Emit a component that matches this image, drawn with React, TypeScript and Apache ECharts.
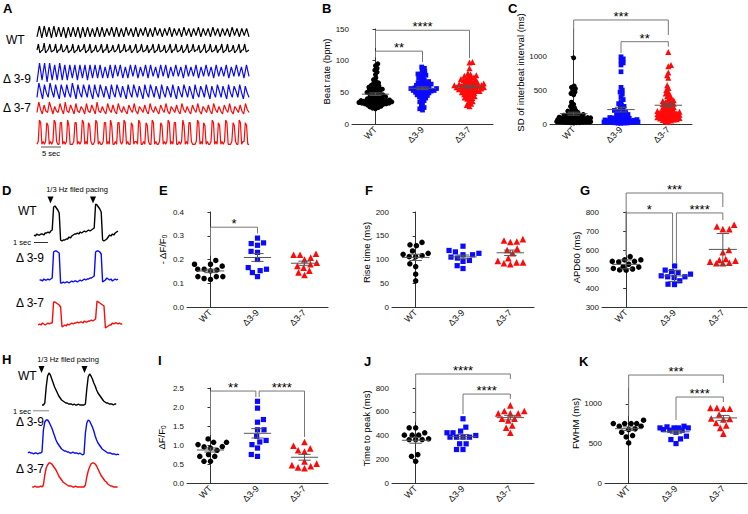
import React, { useEffect, useRef } from "react";
import * as echarts from "echarts";

const FONT = "'Liberation Sans', Arial, Helvetica, sans-serif";
const groups = ["WT", "Δ3-9", "Δ3-7"];
const groupColors = ["#000000", "#0a0aff", "#ff0a0a"];
const groupSymbols = ["circle", "rect", "triangle"];
const symbolScale = [1, 0.95, 1.2];

// ---------- B: beat rate (bpm)
const beatWT = [95, 92, 88, 85, 82, 78, 73, 70, 67, 65, 64, 62, 61, 60, 59, 58, 57, 56, 55, 55, 54, 53, 52, 51, 50, 50, 49, 48, 47, 46, 46, 45, 44, 43, 43, 42, 41, 40, 40, 39, 39, 38, 38, 37, 37, 36, 36, 36, 35, 35, 35, 34, 34, 34, 33, 33, 33, 32, 32, 31, 31, 30, 30, 29, 28, 27, 26, 25, 24];
const beatD39 = [90, 88, 85, 83, 80, 79, 77, 76, 75, 72, 71, 69, 67, 66, 65, 64, 63, 62, 62, 61, 60, 59, 58, 58, 57, 56, 56, 55, 55, 54, 54, 53, 53, 52, 52, 51, 50, 50, 49, 48, 47, 46, 45, 44, 43, 41, 40, 37, 35, 33, 28, 26, 24, 22];
const beatD37 = [98, 97, 88, 80, 78, 77, 76, 75, 74, 73, 72, 71, 70, 70, 69, 68, 67, 66, 66, 65, 64, 64, 63, 63, 62, 62, 61, 61, 60, 60, 60, 59, 59, 58, 58, 57, 57, 56, 56, 55, 55, 54, 54, 53, 52, 52, 51, 50, 50, 49, 48, 47, 46, 45, 44, 43, 42, 41, 40, 38, 36, 34, 32, 30, 28];

// ---------- C: SD of interbeat interval (ms)
const sdWT = [975, 560, 540, 520, 500, 470, 450, 430, 320, 290, 260, 240, 220, 200, 190, 180, 170, 160, 150, 140, 135, 130, 125, 120, 115, 110, 105, 100, 95, 90, 90, 85, 80, 80, 75, 75, 70, 70, 65, 65, 60, 60, 55, 55, 50, 50, 45, 45, 40, 40, 38, 35, 35, 32, 30, 30, 28, 25, 25, 22, 20, 20, 18, 15];
const sdD39 = [990, 960, 930, 900, 870, 770, 540, 500, 470, 440, 400, 360, 330, 300, 280, 260, 240, 220, 200, 190, 180, 170, 160, 150, 140, 130, 120, 110, 100, 95, 90, 85, 80, 75, 70, 65, 60, 55, 50, 50, 45, 45, 40, 40, 35, 35, 30, 30, 25, 25, 20, 20, 15, 15, 10, 12, 18, 22, 28, 33];
const sdD37 = [1060, 870, 850, 760, 720, 680, 570, 530, 500, 470, 450, 430, 410, 390, 370, 350, 340, 330, 320, 310, 300, 290, 280, 270, 260, 250, 240, 230, 220, 210, 200, 195, 190, 185, 180, 175, 170, 165, 160, 155, 150, 145, 140, 135, 130, 125, 120, 115, 110, 105, 100, 95, 90, 85, 80, 75, 70, 65, 60, 50, 40, 30];

// ---------- E: -ΔF/F0
const negDffWT = [0.196, 0.18, 0.172, 0.18, 0.159, 0.156, 0.152, 0.159, 0.128, 0.128, 0.116, 0.12, 0.128];
const negDffD39 = [0.29, 0.27, 0.26, 0.267, 0.23, 0.234, 0.2, 0.159, 0.166, 0.153, 0.145, 0.128];
const negDffD37 = [0.224, 0.22, 0.22, 0.208, 0.2, 0.187, 0.173, 0.166, 0.18, 0.153, 0.135, 0.146];

// ---------- F: rise time (ms)
const riseWT = [136, 129, 131, 113, 108, 106, 106, 111, 118, 85, 91, 69, 55];
const riseD39 = [128, 119, 116, 110, 110, 113, 105, 103, 96, 98, 87, 81];
const riseD37 = [140, 137, 138, 143, 120, 123, 113, 103, 97, 94, 90, 92, 94];

// ---------- G: APD60 (ms)
const apdWT = [565, 548, 540, 537, 540, 548, 510, 503, 495, 494, 500, 512, 525];
const apdD39 = [516, 473, 486, 494, 482, 459, 455, 459, 464, 438, 418, 420];
const apdD37 = [724, 710, 710, 733, 588, 600, 553, 544, 533, 530, 530, 539, 547];

// ---------- I: ΔF/F0
const dffWT = [1.07, 1.16, 1.07, 1.01, 0.96, 0.95, 0.92, 0.86, 0.75, 0.7, 0.7, 0.57, 0.57];
const dffD39 = [2.15, 1.97, 1.67, 1.6, 1.4, 1.4, 1.23, 1.12, 1.08, 1.01, 0.92, 0.75, 0.7];
const dffD37 = [1.08, 0.98, 0.91, 0.86, 0.83, 0.57, 0.51, 0.44, 0.39, 0.41, 0.47];

// ---------- J: time to peak (ms)
const ttpWT = [465, 465, 423, 403, 403, 403, 366, 366, 366, 372, 239, 225, 183];
const ttpD39 = [541, 470, 437, 423, 423, 400, 386, 386, 386, 386, 330, 330, 282, 282];
const ttpD37 = [654, 606, 586, 586, 586, 606, 541, 527, 541, 484, 465, 423];

// ---------- K: FWHM (ms)
const fwhmWT = [751, 751, 793, 751, 751, 717, 717, 675, 684, 641, 599, 582, 506];
const fwhmD39 = [717, 696, 696, 709, 696, 696, 675, 667, 641, 667, 591, 557, 549, 498];
const fwhmD37 = [949, 937, 937, 949, 814, 865, 810, 760, 802, 726, 696, 624];

// ---------- A: spontaneous traces (normalised 0-10)
const traceA_WT1 = [1, 10, 0, 10, 1, 9, 0, 10, 1, 9, 1, 9, 0, 9, 1, 9, 1, 9, 0, 9, 1, 9, 1, 8, 1, 9, 1, 9, 1, 8, 2, 9, 1, 9, 1, 8, 1, 9, 2, 8, 1, 9, 1, 8, 2, 9, 1, 8, 1, 9, 2, 8, 1, 8, 2, 9, 1, 8, 2, 8, 1, 9, 2, 8, 1, 8, 2, 9, 1, 8, 2, 8, 1, 9, 2, 8, 1, 8, 2, 8, 1, 9, 2, 8, 1, 8, 2, 8, 1];
const traceA_WT2 = [3, 9, 0, 2, 3, 10, 0, 2, 4, 9, 1, 2, 3, 9, 0, 3, 3, 9, 1, 2, 4, 8, 0, 2, 3, 9, 0, 2, 3, 8, 1, 3, 4, 9, 0, 2, 3, 9, 0, 2, 3, 8, 1, 2, 4, 9, 0, 3, 3, 9, 0, 2, 3, 8, 1, 2, 4, 9, 0, 2, 3, 9, 1, 3, 3, 8, 0, 2, 4, 9, 0, 2, 3, 9, 1, 2, 3, 8, 0, 3, 4, 9, 0, 2, 3, 9, 1, 2, 3, 8, 0, 2, 4, 9, 0, 3, 3, 9, 1, 2, 3, 8, 0, 2, 4, 9, 0, 2, 3, 9, 1, 3, 3, 8, 0, 2, 4, 9, 0, 2, 3, 9, 1, 2, 3, 8, 0, 3, 4, 9, 0, 2, 3, 9, 1, 2, 3, 8, 0, 2, 4, 9, 0, 3, 3, 9, 1, 2, 3];
const traceA_D39a = [0, 10, 1, 10, 0, 10, 1, 9, 1, 10, 1, 9, 1, 9, 2, 9, 1, 9, 2, 9, 1, 9, 2, 9, 2, 9, 2, 8, 2, 9, 2, 9, 3, 9, 2, 8, 2, 9, 3, 9, 2, 8, 3, 9, 2, 9, 3, 8, 2, 9, 3, 9, 2, 8, 3, 9, 3, 8, 2, 9, 3, 8, 3, 9, 2, 8, 3, 9, 3, 8, 2, 9, 3, 8, 3, 9, 2, 8, 3, 9, 3, 8, 2, 9, 3];
const traceA_D39b = [1, 10, 5, 0, 9, 4, 1, 10, 5, 1, 9, 4, 0, 9, 5, 1, 9, 4, 1, 10, 5, 0, 9, 4, 1, 9, 5, 1, 9, 4, 0, 9, 4, 1, 9, 5, 1, 8, 4, 0, 9, 4, 1, 9, 5, 1, 8, 4, 0, 9, 4, 1, 9, 5, 1, 8, 4, 0, 9, 4, 1, 9, 5, 1, 8, 4, 0, 9, 4, 1, 8, 5, 1, 9, 4, 0, 8, 4, 1, 9, 5, 1, 8, 4, 0, 9, 4, 1, 8, 5, 1, 9, 4, 0, 8, 4, 1, 9, 5, 1, 8, 4, 0, 9, 4, 1, 8, 5, 1, 9, 4, 0, 8, 4, 1];
const traceA_D37a = [3, 10, 5, 2, 8, 4, 3, 10, 6, 2, 7, 4, 3, 9, 5, 2, 10, 4, 3, 8, 5, 2, 9, 4, 3, 7, 5, 2, 9, 4, 3, 8, 5, 2, 10, 4, 3, 7, 4, 2, 9, 5, 3, 8, 4, 2, 9, 5, 3, 7, 4, 2, 8, 5, 3, 9, 4, 2, 7, 5, 3, 8, 4, 2, 9, 5, 3, 7, 4, 2, 8, 5, 3, 9, 4, 2, 7, 5, 3, 8, 4, 2, 9, 5, 3, 7, 4, 2, 8, 5, 3, 9, 4, 2, 7, 5, 3, 8, 4, 2, 9, 5, 3, 7, 4, 2, 8, 5, 3, 9, 4, 2, 7, 5, 3, 8, 4, 2, 9, 5, 3];
const traceA_D37b = [1, 2, 10, 9, 1, 2, 1, 2, 9, 8, 1, 2, 1, 2, 10, 9, 2, 1, 1, 9, 9, 1, 2, 1, 2, 10, 8, 1, 1, 1, 2, 9, 9, 1, 2, 1, 2, 10, 9, 1, 2, 1, 9, 8, 2, 1, 1, 2, 10, 9, 1, 2, 1, 1, 2, 9, 9, 1, 2, 1, 10, 8, 1, 1, 2, 1, 9, 9, 2, 1, 2, 10, 9, 1, 2, 1, 1, 9, 8, 1, 2, 2, 1, 10, 9, 1, 1, 2, 1, 9, 8, 2, 1, 1, 10, 9, 1, 2, 1, 1, 2, 9, 8, 1, 2, 1, 2, 10, 9, 1, 2, 1, 9, 9, 1, 1, 2, 1, 2, 10, 8, 1, 2, 1, 9, 9, 2, 1, 1, 1, 2, 10, 9, 1, 2, 1, 9, 8, 1, 2, 1, 1, 2, 10, 9, 1, 2, 1, 9, 8, 1, 2, 1, 2, 10, 9, 1, 1, 1, 2, 9, 8, 2, 1, 1, 10, 9, 1, 2, 2, 9, 8, 1, 1];

// ---------- D: paced voltage traces (sample every 0.1 s), null = not recorded
const N = null;
const traceD_WT = [7, 6, 8, 7, 7, 8, 8, 7, 9, 9, 10, 9, 11, 12, 35, 36, 34, 32, 29, 2, 1, 2, 2, 3, 3, 5, 4, 6, 7, 8, 8, 9, 8, 10, 9, 10, 11, 10, 11, 12, 11, 12, 13, 14, 38, 37, 35, 33, 30, 2, 1, 2, 3, 5, 7, 6, 8, 7, 9, 10, 11];
const traceD_D39 = [N, N, N, N, 4, 4, 3, 5, 4, 4, 5, 4, 5, 6, 32, 33, 33, 32, 31, 1, 1, 2, 1, 2, 2, 1, 2, 3, 2, 3, 3, 2, 3, 4, 3, 4, 5, 4, 5, 5, 6, 6, 7, 8, 32, 33, 33, 32, 30, 2, 3, 4, 6, 5, 4, 5, 3, 4, 5, 4, 5];
const traceD_D37 = [N, N, N, 5, 6, 5, 7, 6, 5, 6, 7, 6, 7, 7, 28, 28, 27, 26, 25, 23, 3, 4, 5, 4, 6, 5, 6, 7, 6, 7, 7, 8, 7, 8, 8, 7, 9, 8, 8, 9, 9, 10, 9, 10, 11, 29, 28, 27, 26, 25, 24, 2, 3, 4, 5, 5, 7, 6, 7, 7, 6, 7, 6, 6];

// ---------- H: paced calcium transients (sample every 0.1 s)
const traceH_WT = [N, N, N, N, N, N, N, N, N, N, 2, 2, 4, 20, 31, 34, 32, 28, 24, 20, 17, 14, 11, 9, 7, 6, 5, 4, 4, 3, 3, 3, 2, 3, 2, 2, 3, 2, 2, 2, 2, 3, 18, 30, 33, 31, 28, 24, 21, 17, 14, 12, 10, 8, 6, 5, 4, 4, 3, 3, 3, 2, 3, 3];
const traceH_D39 = [2, 3, 2, 2, 1, 2, 2, 1, 2, 2, 3, 25, 33, 35, 35, 33, 30, 27, 23, 19, 15, 12, 10, 8, 6, 5, 4, 4, 3, 3, 2, 2, 3, 2, 2, 2, 1, 2, 1, 0, 1, 22, 32, 35, 34, 31, 28, 24, 19, 15, 12, 10, 8, 6, 5, 4, 3, 2, 2, 2, 1, 1, 1, 0, 1, 0];
const traceH_D37 = [N, N, N, 2, 2, 3, 2, 2, 2, 3, 2, 4, 14, 21, 24, 26, 26, 25, 23, 21, 19, 16, 13, 11, 9, 7, 6, 5, 4, 3, 3, 3, 2, 2, 3, 2, 2, 2, 2, 2, 2, 4, 12, 18, 22, 25, 26, 26, 25, 23, 20, 17, 14, 12, 10, 8, 7, 5, 4, 3, 3, 2, 2, 2, 2];

type Bracket = { a: number; b: number; top: number; la: number; lb: number; label: string };
type Panel = {
  left: number; top: number; width: number; height: number;
  min: number; max: number; interval: number; decimals?: number;
  name: string; nameGap: number; shift: number;
  data: number[][]; err: "sem" | "sd"; diam: number; maxOff: number; size: number;
  brackets: Bracket[];
};

function swarmOffsets(vals: number[], pxPerUnit: number, diam: number, maxOff: number): number[] {
  const order = vals.map((_, i) => i).sort((a, b) => vals[a] - vals[b]);
  const placed: { x: number; y: number }[] = [];
  const out = new Array(vals.length).fill(0);
  const d2 = diam * diam;
  order.forEach((idx, k) => {
    const y = vals[idx] * pxPerUnit;
    const near = placed.filter((p) => Math.abs(p.y - y) < diam);
    let cands = [0];
    near.forEach((p) => {
      const dx = Math.sqrt(Math.max(0, d2 - (p.y - y) * (p.y - y)));
      cands.push(p.x + dx, p.x - dx);
    });
    cands = cands.filter((c) => Math.abs(c) <= maxOff);
    if (cands.length === 0) cands = [0];
    cands.sort((a, b) => Math.abs(a) - Math.abs(b) || (k % 2 ? a - b : b - a));
    let chosen = cands.find((c) => near.every((p) => (c - p.x) ** 2 + (y - p.y) ** 2 >= d2 - 0.01));
    if (chosen === undefined) {
      let best = 0, bestD = -1;
      const trial: number[] = [];
      for (let t = -maxOff; t <= maxOff; t += 0.5) trial.push(t);
      trial.forEach((c) => {
        const md = Math.min(...near.map((p) => (c - p.x) ** 2 + (y - p.y) ** 2));
        if (md > bestD) { bestD = md; best = c; }
      });
      chosen = best;
    }
    placed.push({ x: chosen, y });
    out[idx] = chosen;
  });
  return out;
}

function stats(v: number[]) {
  const n = v.length;
  const m = v.reduce((s, x) => s + x, 0) / n;
  const sd = Math.sqrt(v.reduce((s, x) => s + (x - m) * (x - m), 0) / (n - 1));
  return { m, sd, sem: sd / Math.sqrt(n) };
}

function buildOption() {
  const option: any = {
    animation: false,
    backgroundColor: "#ffffff",
    textStyle: { fontFamily: FONT },
    grid: [],
    xAxis: [],
    yAxis: [],
    series: [],
    graphic: [],
  };

  const axisColor = "#333";

  const addPanel = (p: Panel) => {
    const gi = option.grid.length;
    option.grid.push({ left: p.left, top: p.top, width: p.width, height: p.height });
    option.xAxis.push({
      type: "category", gridIndex: gi, data: groups, position: "bottom",
      axisLine: { lineStyle: { color: axisColor, width: 1 } },
      axisTick: { alignWithLabel: true, length: 3, lineStyle: { color: axisColor } },
      axisLabel: { rotate: 45, fontSize: 9, margin: 4, color: "#111", fontFamily: FONT },
      splitLine: { show: false },
    });
    const xv = option.xAxis.length;
    option.xAxis.push({ type: "value", gridIndex: gi, min: -0.5, max: 2.5, show: false });
    const yi = option.yAxis.length;
    const pad = p.shift >= 0 ? [0, 0, 0, 2 * p.shift] : [0, -2 * p.shift, 0, 0];
    const tickVals: number[] = [];
    const nT = Math.floor((p.max - p.min) / p.interval + 1e-9);
    for (let k = 0; k <= nT; k++) tickVals.push(+(p.min + k * p.interval).toFixed(6));
    option.yAxis.push({
      type: "value", gridIndex: gi, min: p.min, max: p.max, interval: p.interval,
      axisLine: { show: true, lineStyle: { color: axisColor, width: 1 } },
      axisTick: { show: true, length: 3, lineStyle: { color: axisColor }, customValues: tickVals },
      axisLabel: {
        fontSize: 8, margin: 3, color: "#111", fontFamily: FONT, customValues: tickVals,
        formatter: (v: number) => (p.decimals ? v.toFixed(p.decimals) : String(Math.round(v))),
      },
      splitLine: { show: false },
      name: p.name, nameLocation: "middle", nameGap: p.nameGap,
      nameTextStyle: {
        fontSize: 9.5, color: "#000", fontFamily: FONT, padding: pad,
        rich: { s: { fontSize: 6.5, fontFamily: FONT, color: "#000", verticalAlign: "bottom", padding: [5, 0, 0, 0] } },
      },
    });
    const pxPerUnit = p.height / (p.max - p.min);
    const band = p.width / 3;
    p.data.forEach((vals, g) => {
      const offs = swarmOffsets(vals, pxPerUnit, p.diam, p.maxOff);
      option.series.push({
        type: "scatter", xAxisIndex: xv, yAxisIndex: yi,
        symbol: groupSymbols[g], symbolSize: p.size * symbolScale[g],
        itemStyle: { color: groupColors[g], opacity: 1 },
        data: vals.map((v, i) => [g + offs[i] / band, v]),
        silent: true, z: 2,
      });
    });
    const meanData = p.data.map((vals, g) => {
      const s = stats(vals);
      const e = p.err === "sd" ? s.sd : s.sem;
      return [g, s.m, s.m - e, s.m + e];
    });
    option.series.push({
      type: "custom", xAxisIndex: xv, yAxisIndex: yi, z: 3, silent: true,
      encode: { x: 0, y: [1, 2, 3] },
      data: meanData,
      renderItem: (_params: any, api: any) => {
        const g = api.value(0), m = api.value(1), lo = api.value(2), hi = api.value(3);
        const pm = api.coord([g, m]);
        const plo = api.coord([g, lo]);
        const phi = api.coord([g, hi]);
        const bw = api.size([1, 0])[0];
        const hw = bw * 0.29, cw = bw * 0.13;
        const st = { stroke: "#555", lineWidth: 1 };
        return {
          type: "group",
          children: [
            { type: "line", shape: { x1: pm[0] - hw, y1: pm[1], x2: pm[0] + hw, y2: pm[1] }, style: st },
            { type: "line", shape: { x1: plo[0], y1: plo[1], x2: phi[0], y2: phi[1] }, style: st },
            { type: "line", shape: { x1: plo[0] - cw, y1: plo[1], x2: plo[0] + cw, y2: plo[1] }, style: st },
            { type: "line", shape: { x1: phi[0] - cw, y1: phi[1], x2: phi[0] + cw, y2: phi[1] }, style: st },
          ],
        };
      },
    });
    if (p.brackets.length) {
      const labels = p.brackets.map((b) => b.label);
      option.series.push({
        type: "custom", xAxisIndex: xv, yAxisIndex: yi, z: 4, silent: true, clip: false,
        encode: { x: [0, 1], y: [2, 3, 4] },
        data: p.brackets.map((b) => [b.a, b.b, b.top, b.la, b.lb]),
        renderItem: (params: any, api: any) => {
          const a = api.value(0), b = api.value(1), top = api.value(2), la = api.value(3), lb = api.value(4);
          const p1 = api.coord([a, la]);
          const p2 = api.coord([a, top]);
          const p3 = api.coord([b, top]);
          const p4 = api.coord([b, lb]);
          return {
            type: "group",
            children: [
              { type: "polyline", shape: { points: [p1, p2, p3, p4] }, style: { stroke: "#777", lineWidth: 1, fill: null } },
              {
                type: "text",
                style: {
                  text: labels[params.dataIndex], x: (p2[0] + p3[0]) / 2, y: p2[1] - 3.5,
                  textAlign: "center", textVerticalAlign: "middle", align: "center", verticalAlign: "middle",
                  fontSize: 13, fontFamily: FONT, fill: "#000",
                },
              },
            ],
          };
        },
      });
    }
  };

  const addTrace = (left: number, top: number, width: number, height: number, xmax: number, ymax: number, vals: (number | null)[], color: string, lw = 1.2) => {
    const gi = option.grid.length;
    option.grid.push({ left, top, width, height });
    const xi = option.xAxis.length;
    option.xAxis.push({ type: "value", gridIndex: gi, min: 0, max: xmax, show: false });
    const yi = option.yAxis.length;
    option.yAxis.push({ type: "value", gridIndex: gi, min: 0, max: ymax, show: false });
    const data: number[][] = [];
    vals.forEach((v, i) => { if (v !== null) data.push([i, v]); });
    option.series.push({
      type: "line", xAxisIndex: xi, yAxisIndex: yi, data, showSymbol: false, symbol: "none",
      lineStyle: { color, width: lw }, silent: true, z: 2,
    });
  };

  // ---- A traces
  const aL = 37, aW = 212;
  addTrace(aL, 26, aW, 12, traceA_WT1.length - 1, 10, traceA_WT1, "#000");
  addTrace(aL, 43, aW, 10, traceA_WT2.length - 1, 10, traceA_WT2, "#000");
  addTrace(aL, 63, aW, 19, traceA_D39a.length - 1, 10, traceA_D39a, groupColors[1]);
  addTrace(aL, 83, aW, 16, traceA_D39b.length - 1, 10, traceA_D39b, groupColors[1]);
  addTrace(aL, 102, aW, 15, traceA_D37a.length - 1, 10, traceA_D37a, groupColors[2]);
  addTrace(aL, 120, aW, 27, traceA_D37b.length - 1, 10, traceA_D37b, groupColors[2]);

  // ---- D traces (1.4 px per 0.1 s)
  addTrace(34, 202, 89.6, 40, 64, 40, traceD_WT, "#000", 1.4);
  addTrace(34, 250, 89.6, 34, 64, 34, traceD_D39, groupColors[1], 1.4);
  addTrace(34, 298, 89.6, 32, 64, 32, traceD_D37, groupColors[2], 1.4);

  // ---- H traces
  addTrace(28, 370, 92.4, 37, 66, 37, traceH_WT, "#000", 1.4);
  addTrace(28, 417, 92.4, 38, 66, 38, traceH_D39, groupColors[1], 1.4);
  addTrace(28, 460, 92.4, 29, 66, 29, traceH_D37, groupColors[2], 1.4);

  // ---- scatter panels
  addPanel({
    left: 352, top: 29, width: 141, height: 95, min: 0, max: 150, interval: 50,
    name: "Beat rate (bpm)", nameGap: 19, shift: 5,
    data: [beatWT, beatD39, beatD37], err: "sem", diam: 3, maxOff: 17, size: 5,
    brackets: [
      { a: 0, b: 2, top: 148, la: 120, lb: 104, label: "****" },
      { a: 0, b: 1, top: 115, la: 105, lb: 98, label: "**" },
    ],
  });
  addPanel({
    left: 550, top: 29, width: 142, height: 95, min: 0, max: 1400, interval: 500,
    name: "SD of interbeat interval (ms)", nameGap: 18, shift: 4,
    data: [sdWT, sdD39, sdD37], err: "sem", diam: 3, maxOff: 17, size: 5,
    brackets: [
      { a: 0, b: 2, top: 1533, la: 1091, lb: 1312, label: "***" },
      { a: 1, b: 2, top: 1213, la: 1046, lb: 1140, label: "**" },
    ],
  });
  addPanel({
    left: 187, top: 212, width: 141, height: 95, min: 0, max: 0.4, interval: 0.1, decimals: 1,
    name: "- ΔF/F{s|0}", nameGap: 19, shift: 10,
    data: [negDffWT, negDffD39, negDffD37], err: "sem", diam: 6.5, maxOff: 16, size: 5.5,
    brackets: [{ a: 0, b: 1, top: 0.336, la: 0.216, lb: 0.31, label: "*" }],
  });
  addPanel({
    left: 392, top: 212, width: 142, height: 95, min: 0, max: 200, interval: 50,
    name: "Rise time (ms)", nameGap: 19, shift: 7,
    data: [riseWT, riseD39, riseD37], err: "sem", diam: 6.5, maxOff: 16, size: 5.5,
    brackets: [],
  });
  addPanel({
    left: 602, top: 212, width: 145, height: 95, min: 300, max: 800, interval: 100,
    name: "APD60 (ms)", nameGap: 17, shift: 2,
    data: [apdWT, apdD39, apdD37], err: "sd", diam: 6.5, maxOff: 16, size: 5.5,
    brackets: [
      { a: 0, b: 2, top: 900, la: 574, lb: 826, label: "***" },
      { a: 0, b: 0.96, top: 795, la: 574, lb: 530, label: "*" },
      { a: 1.04, b: 2, top: 795, la: 530, lb: 758, label: "****" },
    ],
  });
  addPanel({
    left: 187, top: 388, width: 141, height: 95, min: 0, max: 2.5, interval: 0.5, decimals: 1,
    name: "ΔF/F{s|0}", nameGap: 20, shift: -2,
    data: [dffWT, dffD39, dffD37], err: "sem", diam: 6.5, maxOff: 16, size: 5.5,
    brackets: [
      { a: 0, b: 0.965, top: 2.42, la: 1.26, lb: 2.26, label: "**" },
      { a: 1.035, b: 2, top: 2.42, la: 2.26, lb: 1.21, label: "****" },
    ],
  });
  addPanel({
    left: 392, top: 388, width: 142, height: 95, min: 0, max: 800, interval: 200,
    name: "Time to peak (ms)", nameGap: 20, shift: 7,
    data: [ttpWT, ttpD39, ttpD37], err: "sem", diam: 6.5, maxOff: 16, size: 5.5,
    brackets: [
      { a: 0, b: 2, top: 918, la: 514, lb: 876, label: "****" },
      { a: 1, b: 2, top: 749, la: 581, lb: 707, label: "****" },
    ],
  });
  addPanel({
    left: 605, top: 388, width: 142, height: 95, min: 0, max: 1200, interval: 500,
    name: "FWHM (ms)", nameGap: 21, shift: 12,
    data: [fwhmWT, fwhmD39, fwhmD37], err: "sem", diam: 6.5, maxOff: 16, size: 5.5,
    brackets: [
      { a: 0, b: 2, top: 1364, la: 846, lb: 1263, label: "***" },
      { a: 1, b: 2, top: 1086, la: 796, lb: 1023, label: "****" },
    ],
  });

  // ---- graphic annotations
  const txt = (x: number, y: number, text: string, size: number, opts: any = {}) => ({
    type: "text", x, y, silent: true,
    style: {
      text, fontSize: size, fontFamily: FONT, fill: opts.fill || "#000", fontWeight: opts.bold ? "bold" : "normal",
      textAlign: opts.align || "left", align: opts.align || "left",
      textVerticalAlign: "middle", verticalAlign: "middle",
    },
  });
  const line = (x1: number, y1: number, x2: number, y2: number, stroke = "#333", w = 1) => ({
    type: "line", silent: true, shape: { x1, y1, x2, y2 }, style: { stroke, lineWidth: w },
  });
  const arrow = (x: number, y: number) => ({
    type: "polygon", silent: true,
    shape: { points: [[x - 3, y - 3.5], [x + 3, y - 3.5], [x, y + 3.5]] },
    style: { fill: "#000" },
  });

  const letters: [string, number, number][] = [
    ["A", 3, 8], ["B", 322, 8], ["C", 508, 8],
    ["D", 2, 190], ["E", 159, 190], ["F", 365, 190], ["G", 580, 190],
    ["H", 2, 359], ["I", 158, 360], ["J", 364, 361], ["K", 579, 361],
  ];
  letters.forEach(([t, x, y]) => option.graphic.push(txt(x, y, t, 13, { bold: true })));

  // A labels
  option.graphic.push(txt(6, 39.5, "WT", 12));
  option.graphic.push(txt(3, 79, "Δ 3-9", 12));
  option.graphic.push(txt(3, 108, "Δ 3-7", 12));
  option.graphic.push(line(41, 147, 61, 147, "#555", 1));
  option.graphic.push(txt(51, 153.5, "5 sec", 7.5, { align: "center" }));

  // D labels
  option.graphic.push(txt(77, 189.5, "1/3 Hz filed pacing", 7.5, { align: "center" }));
  option.graphic.push(arrow(50.5, 200));
  option.graphic.push(arrow(93, 200));
  option.graphic.push(txt(18, 210.5, "WT", 12));
  option.graphic.push(txt(16, 257.5, "Δ 3-9", 12));
  option.graphic.push(txt(16, 302.5, "Δ 3-7", 12));
  option.graphic.push(line(34, 242.5, 48, 242.5, "#333", 1));
  option.graphic.push(txt(13, 242.5, "1 sec", 7.5));

  // H labels
  option.graphic.push(txt(68, 359, "1/3 Hz filed pacing", 7.5, { align: "center" }));
  option.graphic.push(arrow(41.5, 369.5));
  option.graphic.push(arrow(84.5, 369.5));
  option.graphic.push(txt(18, 376, "WT", 12));
  option.graphic.push(txt(16, 422, "Δ 3-9", 12));
  option.graphic.push(txt(16, 468.5, "Δ 3-7", 12));
  option.graphic.push(line(33, 410.7, 49, 410.7, "#aaa", 1.5));
  option.graphic.push(txt(13, 411, "1 sec", 7.5));

  return option;
}

export default function App() {
  const ref = useRef<HTMLDivElement>(null);
  useEffect(() => {
    document.body.style.margin = "0";
    if (!ref.current) return;
    const chart = echarts.init(ref.current, undefined, { renderer: "svg" });
    chart.setOption(buildOption());
    return () => chart.dispose();
  }, []);
  return <div ref={ref} style={{ width: 748, height: 514, background: "#fff" }} />;
}
